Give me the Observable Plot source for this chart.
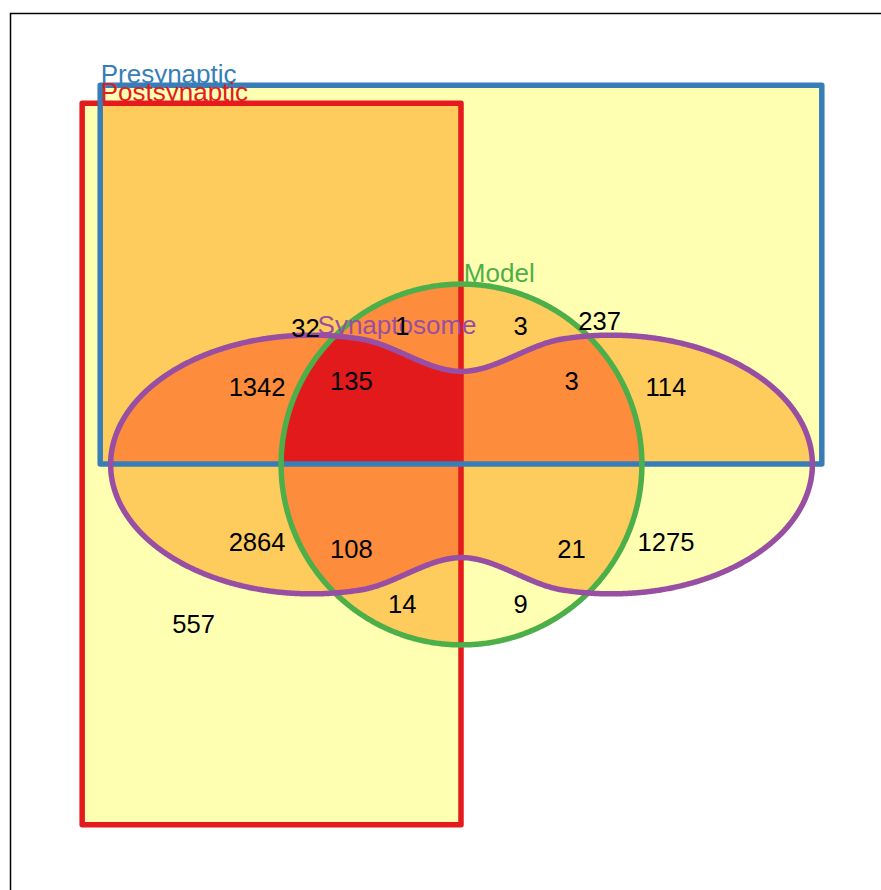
<!DOCTYPE html>
<html>
<head>
<meta charset="utf-8">
<script src="https://cdn.jsdelivr.net/npm/d3@7"></script>
<script src="https://cdn.jsdelivr.net/npm/@observablehq/plot@0.6"></script>
<style>
  html, body { margin: 0; padding: 0; overflow: hidden; background: #fff; }
  #chart svg { display: block; }
</style>
</head>
<body>
<div id="chart"></div>
<script>
// ---- Region counts and where their labels sit (diagram units) ----
const regionCounts = [32, 1, 3, 237, 1342, 135, 3, 114, 2864, 108, 21, 1275, 557, 14, 9];
const regionMembers = ["Pre+Post", "Pre+Post+Model", "Pre+Model", "Pre", "Pre+Post+Syn", "Pre+Post+Model+Syn",
  "Pre+Model+Syn", "Pre+Syn", "Post+Syn", "Post+Model+Syn", "Model+Syn", "Syn", "Post", "Post+Model", "Model"];
const regionLabelX = [-0.865, -0.328, 0.328, 0.765, -1.133, -0.61, 0.61, 1.133, -1.133, -0.61, 0.61, 1.133, -1.485, -0.328, 0.328];
const regionLabelY = [0.751, 0.761, 0.763, 0.789, 0.424, 0.460, 0.460, 0.424, -0.435, -0.471, -0.471, -0.435, -0.887, -0.776, -0.776];

// ---- Sets ----
const setNames = ["Presynaptic", "Postsynaptic", "Model", "Synaptosome"];
const setColors = ["#377EB8", "#E41A1C", "#4DAF4A", "#984EA3"];
const setLabelX = [-2.0, -2.0, 0.013, -0.798];
const setLabelY = [2.117, 2.015, 1.009, 0.723];

// ---- Fill colour by number of overlapping sets (0..4) ----
const depthLevels = [0, 1, 2, 3, 4];
const depthColors = ["#FFFFFF", "#FFFFB2", "#FECC5C", "#FD8D3C", "#E31A1C"];

// ---- Set shapes (diagram units) ----
const rectX1 = [-2.0, -2.1];   // Presynaptic, Postsynaptic
const rectX2 = [2.0, 0.0];
const rectY1 = [0.0, -2.0];
const rectY2 = [2.1, 2.0];
const circle = [0, 0, 1];      // Model: cx, cy, r
// Synaptosome "peanut": lobe offset, lobe x-radius, lobe y-radius, waist half-height, blend width
const peanut = [0.831, 1.114, 0.717, 0.516, 0.554];

const [pLobe, pRx, pRy, pWaist, pBlend] = peanut;
const pW = pLobe + pRx;
function lobeH(d) {
  const u = (d - pLobe) / pRx;
  return u * u < 1 ? pRy * Math.sqrt(1 - u * u) : 0;
}
const blendH = lobeH(pBlend);
const blendU = (pBlend - pLobe) / pRx;
const blendSlope = -pRy * (blendU / pRx) / Math.sqrt(1 - blendU * blendU);
function peanutH(x) {
  const d = Math.abs(x);
  if (d >= pBlend) return lobeH(d);
  const t = d / pBlend, t2 = t * t, t3 = t2 * t;
  return pWaist * (1 - 3 * t2 + 2 * t3) + blendH * (3 * t2 - 2 * t3) + blendSlope * pBlend * (t3 - t2);
}

const inRect = (i, x, y) => x >= rectX1[i] && x <= rectX2[i] && y >= rectY1[i] && y <= rectY2[i];
const inCircle = (x, y) => (x - circle[0]) ** 2 + (y - circle[1]) ** 2 <= circle[2] ** 2;
const inPeanut = (x, y) => Math.abs(x) <= pW && Math.abs(y) <= peanutH(x);
const depth = (x, y) => inRect(0, x, y) + inRect(1, x, y) + inCircle(x, y) + inPeanut(x, y);

// outlines
const N = 720;
const circlePts = d3.range(N).map(i => {
  const t = 2 * Math.PI * i / N;
  return {x: circle[0] + circle[2] * Math.cos(t), y: circle[1] + circle[2] * Math.sin(t)};
});
const peanutPts = [];
for (let i = 0; i <= N; i++) { const x = pW * Math.cos(Math.PI * i / N); peanutPts.push({x, y: peanutH(x)}); }
for (let i = 1; i < N; i++) { const x = -pW * Math.cos(Math.PI * i / N); peanutPts.push({x, y: -peanutH(x)}); }

const regions = regionCounts.map((n, i) => ({n, members: regionMembers[i], x: regionLabelX[i], y: regionLabelY[i]}));
const setLabels = setNames.map((name, i) => ({name, color: setColors[i], x: setLabelX[i], y: setLabelY[i]}));
const rects = [0, 1].map(i => ({set: setNames[i], x1: rectX1[i], x2: rectX2[i], y1: rectY1[i], y2: rectY2[i]}));

const font = "'Liberation Sans', Arial, Helvetica, sans-serif";
const W = 881, H = 890;
const lw = 5.5;

const chart = Plot.plot({
  width: W,
  height: H,
  marginLeft: 10,
  marginTop: 13,
  marginRight: W - 912,
  marginBottom: H - 915,
  x: {domain: [-2.5, 2.5], axis: null},
  y: {domain: [-2.5, 2.5], axis: null},
  color: {type: "ordinal", domain: depthLevels, range: depthColors},
  style: {fontFamily: font, background: "white"},
  marks: [
    Plot.raster({fill: (x, y) => depth(x, y), x1: -2.5, x2: 2.5, y1: -2.5, y2: 2.5, pixelSize: 1, imageRendering: "pixelated"}),
    Plot.rect([rects[1]], {x1: "x1", x2: "x2", y1: "y1", y2: "y2", fill: "none", stroke: setColors[1], strokeWidth: lw, strokeLinejoin: "round"}),
    Plot.rect([rects[0]], {x1: "x1", x2: "x2", y1: "y1", y2: "y2", fill: "none", stroke: setColors[0], strokeWidth: lw, strokeLinejoin: "round"}),
    Plot.line(circlePts, {x: "x", y: "y", curve: "linear-closed", stroke: setColors[2], strokeWidth: lw}),
    Plot.line(peanutPts, {x: "x", y: "y", curve: "linear-closed", stroke: setColors[3], strokeWidth: lw}),
    ...setLabels.map(d => Plot.text([d], {x: "x", y: "y", text: "name", fill: d.color, fontSize: 26, fontFamily: font, textAnchor: "start", lineAnchor: "bottom"})),
    Plot.text(regions, {x: "x", y: "y", text: d => String(d.n), fill: "black", fontSize: 25.6, fontFamily: font}),
    Plot.frame({stroke: "black", strokeWidth: 1.5})
  ]
});
document.getElementById("chart").appendChild(chart);
</script>
</body>
</html>
